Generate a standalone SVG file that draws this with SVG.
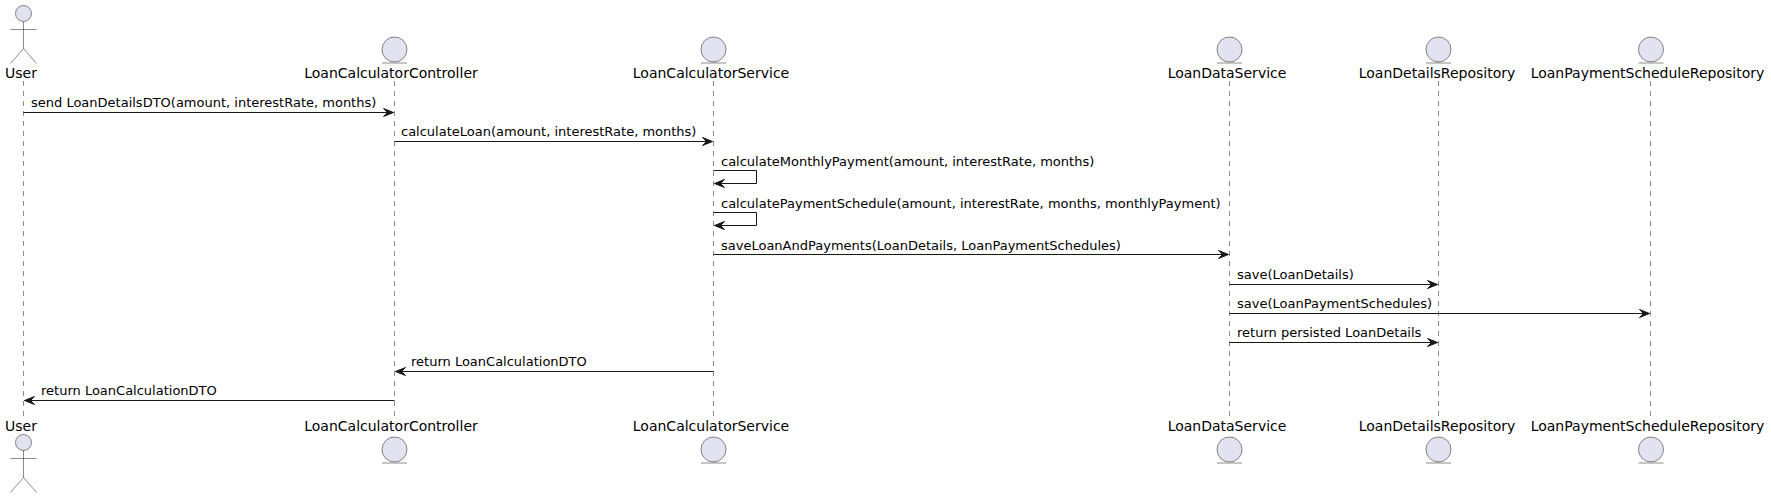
<svg xmlns="http://www.w3.org/2000/svg" width="1771" height="498" viewBox="0 0 1771 498">
<style>
text{font-family:"DejaVu Sans",sans-serif;font-size:14px;fill:#000}
#messages text{font-size:13px}
.ll{stroke:#181818;stroke-width:.5;stroke-dasharray:5,5;fill:none}
.sh{fill:#E2E2F0;stroke:#181818;stroke-width:.5}
.nf{fill:none;stroke:#181818;stroke-width:.5}
.c{stroke:#181818;stroke-width:1;fill:none}
.h{fill:#181818;stroke:#181818}
.m{text-anchor:middle}
</style>
<defs>
<marker id="a" markerUnits="userSpaceOnUse" markerWidth="14" markerHeight="12" refX="10" refY="4" orient="auto" overflow="visible"><path class="h" d="M0,0L10,4L0,8L4,4Z"/></marker>
</defs>
<g id="lifelines">
<line class="ll" x1="23.5" y1="81" x2="23.5" y2="416"/>
<line class="ll" x1="394.5" y1="81" x2="394.5" y2="416"/>
<line class="ll" x1="713.5" y1="81" x2="713.5" y2="416"/>
<line class="ll" x1="1229.5" y1="81" x2="1229.5" y2="416"/>
<line class="ll" x1="1438.5" y1="81" x2="1438.5" y2="416"/>
<line class="ll" x1="1650.5" y1="81" x2="1650.5" y2="416"/>
</g>
<g id="connectors">
<line class="c" x1="23.5" y1="112.5" x2="393.5" y2="112.5" marker-end="url(#a)"/>
<line class="c" x1="394.5" y1="141.5" x2="712.5" y2="141.5" marker-end="url(#a)"/>
<path class="c" d="M713.5,170.5H756.5V183.5H714.5" marker-end="url(#a)"/>
<path class="c" d="M713.5,212.5H756.5V225.5H714.5" marker-end="url(#a)"/>
<line class="c" x1="713.5" y1="254.5" x2="1228.5" y2="254.5" marker-end="url(#a)"/>
<line class="c" x1="1229.5" y1="284.5" x2="1437.5" y2="284.5" marker-end="url(#a)"/>
<line class="c" x1="1229.5" y1="313.5" x2="1649.5" y2="313.5" marker-end="url(#a)"/>
<line class="c" x1="1229.5" y1="342.5" x2="1437.5" y2="342.5" marker-end="url(#a)"/>
<line class="c" x1="713.5" y1="371.5" x2="395.5" y2="371.5" marker-end="url(#a)"/>
<line class="c" x1="394.5" y1="400.5" x2="24.5" y2="400.5" marker-end="url(#a)"/>
</g>
<g id="messages">
<text x="31" y="107">send LoanDetailsDTO(amount, interestRate, months)</text>
<text x="401" y="136">calculateLoan(amount, interestRate, months)</text>
<text x="721" y="166">calculateMonthlyPayment(amount, interestRate, months)</text>
<text x="721" y="208">calculatePaymentSchedule(amount, interestRate, months, monthlyPayment)</text>
<text x="721" y="250">saveLoanAndPayments(LoanDetails, LoanPaymentSchedules)</text>
<text x="1237" y="279">save(LoanDetails)</text>
<text x="1237" y="308">save(LoanPaymentSchedules)</text>
<text x="1237" y="337">return persisted LoanDetails</text>
<text x="411" y="366">return LoanCalculationDTO</text>
<text x="41" y="395">return LoanCalculationDTO</text>
</g>
<g id="User">
<circle class="sh" cx="23.5" cy="13.5" r="8"/><path class="nf" d="M23.5,21.5V48.5M10.5,29.5H36.5M23.5,48.5L10.5,63.5M23.5,48.5L36.5,63.5"/>
<text class="m" x="21" y="78">User</text>
<text class="m" x="21" y="431">User</text>
<circle class="sh" cx="23.5" cy="442.5" r="8"/><path class="nf" d="M23.5,450.5V477.5M10.5,458.5H36.5M23.5,477.5L10.5,492.5M23.5,477.5L36.5,492.5"/>
</g>
<g id="LoanCalculatorController">
<circle class="sh" cx="394.5" cy="49.5" r="12.5"/><line class="sh" x1="382" y1="63" x2="407" y2="63"/>
<text class="m" x="391" y="78">LoanCalculatorController</text>
<text class="m" x="391" y="431">LoanCalculatorController</text>
<circle class="sh" cx="394.5" cy="449.5" r="12.5"/><line class="sh" x1="382" y1="463" x2="407" y2="463"/>
</g>
<g id="LoanCalculatorService">
<circle class="sh" cx="713.5" cy="49.5" r="12.5"/><line class="sh" x1="701" y1="63" x2="726" y2="63"/>
<text class="m" x="711" y="78">LoanCalculatorService</text>
<text class="m" x="711" y="431">LoanCalculatorService</text>
<circle class="sh" cx="713.5" cy="449.5" r="12.5"/><line class="sh" x1="701" y1="463" x2="726" y2="463"/>
</g>
<g id="LoanDataService">
<circle class="sh" cx="1229.5" cy="49.5" r="12.5"/><line class="sh" x1="1217" y1="63" x2="1242" y2="63"/>
<text class="m" x="1227" y="78">LoanDataService</text>
<text class="m" x="1227" y="431">LoanDataService</text>
<circle class="sh" cx="1229.5" cy="449.5" r="12.5"/><line class="sh" x1="1217" y1="463" x2="1242" y2="463"/>
</g>
<g id="LoanDetailsRepository">
<circle class="sh" cx="1438.5" cy="49.5" r="12.5"/><line class="sh" x1="1426" y1="63" x2="1451" y2="63"/>
<text class="m" x="1437" y="78">LoanDetailsRepository</text>
<text class="m" x="1437" y="431">LoanDetailsRepository</text>
<circle class="sh" cx="1438.5" cy="449.5" r="12.5"/><line class="sh" x1="1426" y1="463" x2="1451" y2="463"/>
</g>
<g id="LoanPaymentScheduleRepository">
<circle class="sh" cx="1651" cy="49.5" r="12.5"/><line class="sh" x1="1638.5" y1="63" x2="1663.5" y2="63"/>
<text class="m" x="1647.5" y="78">LoanPaymentScheduleRepository</text>
<text class="m" x="1647.5" y="431">LoanPaymentScheduleRepository</text>
<circle class="sh" cx="1651" cy="449.5" r="12.5"/><line class="sh" x1="1638.5" y1="463" x2="1663.5" y2="463"/>
</g>
</svg>
